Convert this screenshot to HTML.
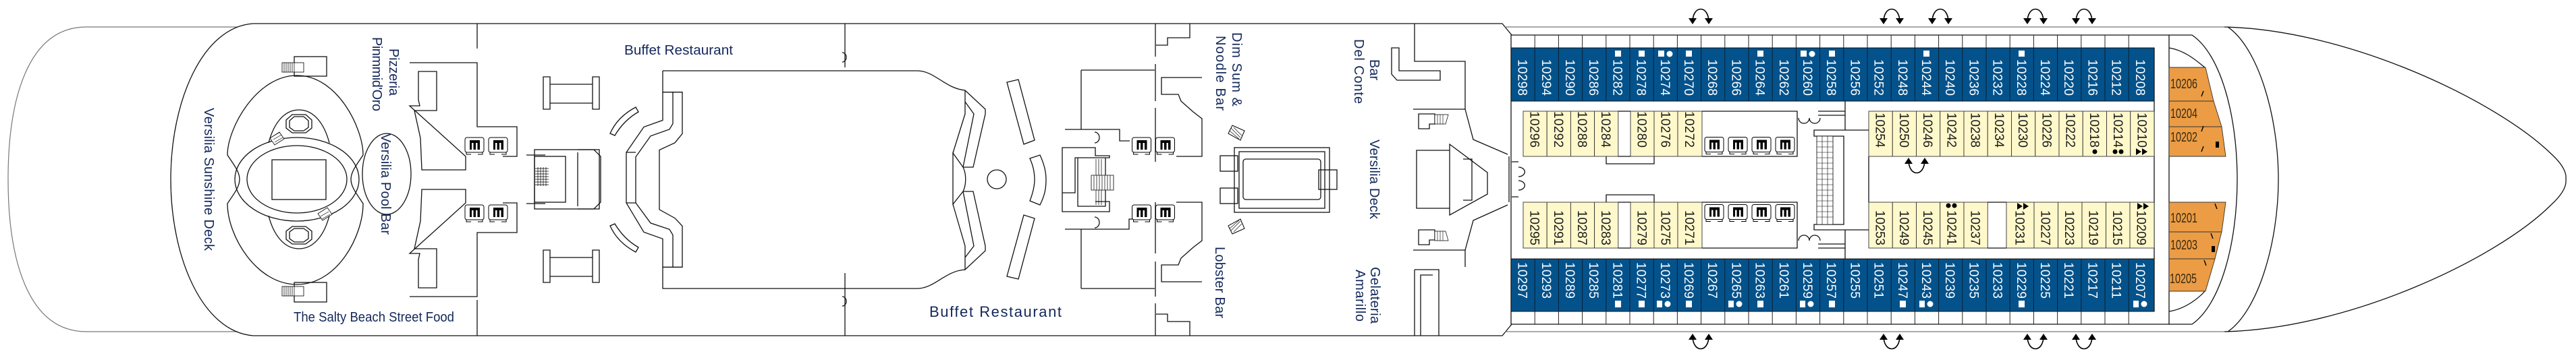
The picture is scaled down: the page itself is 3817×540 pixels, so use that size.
<!DOCTYPE html>
<html><head><meta charset="utf-8"><style>
html,body{margin:0;padding:0;background:#fff;width:3817px;height:540px;overflow:hidden}
svg{display:block;position:absolute;left:0;top:0}
.t{font-family:"Liberation Sans",sans-serif;fill:#13285a}
.c{font-family:"Liberation Sans",sans-serif;font-size:19px}
.w{fill:#fff}
.k{fill:#1a1a1a}
.ln{fill:none;stroke:#111;stroke-width:1.3}
.lg{fill:none;stroke:#777;stroke-width:1.2}
</style></head><body>
<svg width="3817" height="540" viewBox="0 0 3817 540" xmlns="http://www.w3.org/2000/svg">
<defs>
<symbol id="lf" viewBox="0 0 30 27"><rect x="1" y="1" width="28" height="22" rx="3" fill="#fff" stroke="#000" stroke-width="1"/><rect x="8" y="5" width="15" height="14" fill="#000"/><rect x="11" y="9" width="2.5" height="10" fill="#fff"/><rect x="17" y="9" width="2.5" height="10" fill="#fff"/><path d="M3,23 V26 H10 M20,26 H27 V23" fill="none" stroke="#000"/></symbol>
<symbol id="ar" viewBox="-25 0 50 30" overflow="visible"><path d="M-12,26 C-12,0 12,0 12,26" fill="none" stroke="#000" stroke-width="1.6"/><polygon points="-18,20 -6,20 -12,29" fill="#000"/><polygon points="6,20 18,20 12,29" fill="#000"/></symbol>
</defs>
<rect width="3817" height="540" fill="#fff"/>

<!-- stern -->
<path class="lg" d="M352,40 H128 C40,40 12,150 12,266 C12,382 40,492 128,492 H352"/>
<path class="ln" d="M375,35 C300,40 253,150 253,266 C253,382 300,492 375,498"/>
<path class="ln" d="M375,35 H2226 L2240,52"/>
<path class="ln" d="M375,498 H2226 L2240,481"/>

<!-- pool area -->
<path class="ln" d="M440,112 C500,112 538,190 538,230 C528,245 520,255 520,266 C520,277 528,287 538,302 C538,350 500,422 440,422 C380,422 337,350 337,302 C347,287 355,277 355,266 C355,255 347,245 337,230 C337,190 380,112 440,112 Z"/>
<ellipse class="ln" cx="440" cy="266" rx="92" ry="62"/>
<ellipse class="ln" cx="440" cy="266" rx="74" ry="50"/>
<rect class="ln" x="403" y="237" width="80" height="59"/>
<path class="ln" d="M398,212 C405,185 420,163 443,163 C466,163 481,185 488,212"/>
<path class="ln" d="M398,320 C405,347 420,369 443,369 C466,369 481,347 488,320"/>
<polygon class="ln" points="433,170 453,170 462,178 462,190 453,197 433,197 424,190 424,178"/>
<polygon class="ln" points="436,173 450,173 457,179 457,189 450,194 436,194 429,189 429,179"/>
<polygon class="ln" points="433,336 453,336 462,343 462,355 453,362 433,362 424,355 424,343"/>
<polygon class="ln" points="436,339 450,339 457,344 457,354 450,359 436,359 429,354 429,344"/>
<path d="M400,205 L414,196 L421,206 L407,215 Z M478,327 L492,318 L485,308 L471,317 Z" fill="#fff" stroke="#000" stroke-width="0.8"/>
<path d="M403,203 l12,-7 M405,207 l12,-7 M407,211 l12,-7 M475,321 l12,-7 M477,325 l12,-7" stroke="#000" stroke-width="0.7"/>
<rect class="ln" x="436" y="84" width="48" height="29"/>
<rect class="ln" x="436" y="419" width="48" height="29"/>
<rect x="418" y="93" width="32" height="14" fill="#fff" stroke="#000" stroke-width="0.8"/>
<rect x="418" y="425" width="32" height="14" fill="#fff" stroke="#000" stroke-width="0.8"/>
<path d="M421,93v14M424,93v14M427,93v14M430,93v14M433,93v14M436,93v14M421,425v14M424,425v14M427,425v14M430,425v14M433,425v14M436,425v14" stroke="#000" stroke-width="0.7"/>
<ellipse class="ln" cx="573" cy="258" rx="36" ry="60"/>

<!-- stern service block -->
<path class="ln" d="M707,35 V72 M707,445 V498"/>
<path class="ln" d="M607,93 H707 V188 H766 V232 H745 M690,232 V252 H625 L623,205 L614,164 H647 V106 H620 V148 L622,157 H607 Z"/>
<path class="ln" d="M607,440 H707 V345 H766 V301 H745 M690,301 V281 H625 L623,328 L614,369 H647 V427 H620 V385 L622,376 H607 Z"/>
<use href="#lf" x="688" y="203" width="30" height="27"/>
<use href="#lf" x="723" y="203" width="30" height="27"/>
<use href="#lf" x="688" y="303" width="30" height="27"/>
<use href="#lf" x="723" y="303" width="30" height="27"/>
<path class="ln" d="M780,230 H808 M780,302 H808"/>
<rect class="ln" x="792" y="222" width="96" height="88"/>
<rect class="ln" x="792" y="232" width="46" height="68"/>
<path class="ln" d="M856,222 H880 L890,232 V300 L880,310 H856 M856,226 V306"/>
<path d="M793,250h20M793,254h20M793,258h20M793,262h20M793,266h20M793,270h20M793,274h20M797,248v28M801,248v28M805,248v28M809,248v28" stroke="#000" stroke-width="0.7"/>
<!-- benches -->
<path class="ln" d="M805,114 h10 v48 h-10 Z M878,114 h10 v48 h-10 Z M815,125 H878 M815,153 H878"/>
<path class="ln" d="M805,371 h10 v48 h-10 Z M878,371 h10 v48 h-10 Z M815,382 H878 M815,410 H878"/>
<path class="ln" d="M904,198 C912,180 925,168 942,159 L946,166 C932,174 920,186 911,201 Z"/>
<path class="ln" d="M904,335 C912,353 925,365 942,374 L946,367 C932,359 920,347 911,332 Z"/>

<!-- buffet -->
<path class="ln" d="M982,105 V136.7 H1011 V198.4 L1000,211.8 L977,222.5 V310.9 L1000,323.6 L1011,335.3 V396.3 H982 V428 H1359 C1385,428 1400,402 1430,400"/>
<path class="ln" d="M982,105 H1359 C1385,105 1400,131 1430,134"/>
<path class="ln" d="M997,136.7 V183.4 L992,191.8 L964,201.8 L942,232.8 V300.9 L964,330.9 L992,340.3 L997,348.6 V396.3"/>
<path class="ln" d="M982,136.7 V178.4 L954,188.4 L928,226.1 V300.9 L954,344.3 L982,354.3 V396.3"/>
<path class="ln" d="M928,226 H942 M928,301 H942"/>
<path class="ln" d="M1252,35 V100 M1252,405 V498"/>
<path class="ln" d="M1248,78 a6,7 0 0 1 0,14 M1248,440 a6,7 0 0 1 0,14"/>
<path class="ln" d="M1430,134 L1460,162 L1460,169 L1442,248 H1427 L1412,227 V303 L1427,284 H1442 L1460,365 L1460,372 L1430,400 V365 L1412,303 M1430,134 V169 L1412,227"/>
<path class="ln" d="M1430,151 L1443,169 L1427,248 M1430,382 L1443,365 L1427,284 M1427,248 C1432,258 1432,274 1427,284"/>
<polygon class="ln" points="1492,122 1509,118 1533,208 1517,214"/>
<path class="ln" d="M1526,235 L1541,230 C1548,245 1550,256 1550,266 C1550,280 1548,290 1541,304 L1526,298 C1531,285 1533,275 1533,266 C1533,256 1531,246 1526,235 Z"/>
<polygon class="ln" points="1517,319 1533,324 1509,414 1492,410"/>
<circle class="ln" cx="1477" cy="266" r="14"/>

<!-- mid staircase -->
<path class="ln" d="M1602,104 H1711 M1602,104 V192 M1578,192 H1659 V209 H1674 M1602,428 H1711 M1602,428 V340 M1578,340 H1673 V325 H1690"/>
<path class="ln" d="M1574,219 H1623 V231 H1644 V234 H1593 V286 H1574 Z M1574,286 V314 H1644 V299 H1623 M1597,234 V306 H1638 V234"/>
<path d="M1617,260 h33 v22 h-33 Z" fill="#fff" stroke="#000" stroke-width="0.8"/>
<path d="M1621,260v22M1625,260v22M1629,260v22M1633,260v22M1637,260v22M1641,260v22M1645,260v22M1624,236v24M1628,236v24M1632,236v24M1624,282v22M1628,282v22M1632,282v22" stroke="#000" stroke-width="0.7"/>
<path class="ln" d="M1622,196 a7,8 0 0 1 0,16 M1622,322 a7,8 0 0 1 0,16"/>
<path class="ln" d="M1712,35 V84 M1712,95 V150 M1712,160 V240 M1712,300 V376 M1712,388 V440 M1712,450 V498"/>
<use href="#lf" x="1676" y="203" width="31" height="27"/>
<use href="#lf" x="1711" y="203" width="31" height="27"/>
<use href="#lf" x="1676" y="303" width="31" height="27"/>
<use href="#lf" x="1711" y="303" width="31" height="27"/>
<path class="ln" d="M1743,232 H1781 V176 L1768,166 L1750,150 L1746,140 H1721 V115 H1781 M1743,300 H1781 V357 L1768,367 L1750,383 L1746,393 H1721 V418 H1781"/>
<path class="ln" d="M1763,35 V56 H1730 V67 H1713 M1763,498 V477 H1730 V466 H1713"/>
<polygon points="1826,186 1844,194 1838,208 1820,198" fill="#fff" stroke="#000"/>
<polygon points="1826,347 1844,339 1838,325 1820,335" fill="#fff" stroke="#000"/>
<path d="M1824,190l14,14M1828,189l12,12M1822,194l14,12M1824,342l14,-14M1828,344l12,-12M1822,339l14,-12" stroke="#000" stroke-width="0.6"/>
<rect class="ln" x="1829" y="219" width="141" height="96"/>
<rect class="ln" x="1836" y="225" width="127" height="84"/>
<rect class="ln" x="1842" y="236" width="115" height="60" rx="4"/>
<rect class="ln" x="1954" y="252" width="27" height="29"/>
<rect class="ln" x="1808" y="231" width="26" height="23"/>
<rect class="ln" x="1808" y="279" width="26" height="23"/>

<!-- fore lobby -->
<path class="ln" d="M2096,35 V91 H2171 V162 H2094 M2096,498 V400 M2132,498 V400 H2096 M2171,396 V371 H2094"/>
<path class="ln" d="M2062,71 H2073 V105 H2134 V119 H2070 L2062,110 Z"/>
<path class="ln" d="M2105,498 V408 H2123"/>
<path class="ln" d="M2171,162 L2183,207 L2234,229 M2171,371 L2183,327 L2234,304"/>
<path class="ln" d="M2099,223 H2148 V214 L2204,256 V288 L2148,319 V309 H2099 Z M2148,223 V309 M2168,236 H2181 V297 H2168"/>
<path class="ln" d="M2102,169 H2126 V184 H2118 V191 H2102 Z M2102,341 H2126 V356 H2118 V363 H2102 Z"/>
<path d="M2126,170 h20 l-4,14 h-16 Z M2126,357 h20 l-4,-14 h-16 Z" fill="#fff" stroke="#000" stroke-width="0.7"/>
<path d="M2130,170v14M2134,170v14M2138,170v14M2130,343v14M2134,343v14M2138,343v14" stroke="#000" stroke-width="0.6"/>
<path class="ln" d="M2236,232 V300"/>
<path class="ln" d="M2240,240 h10 M2240,292 h10 M2250,248 a8,6 0 0 1 0,14 M2250,268 a8,6 0 0 1 0,14"/>

<!-- cabin area hull -->
<path class="lg" d="M2230,40 H3296 M2230,492 H3296"/>
<path class="ln" d="M3296,40 C3480,44 3700,150 3780,228 Q3804,250 3802,266 Q3804,282 3780,304 C3700,384 3480,488 3296,492"/>
<path class="ln" d="M3301,40 C3345,70 3376,170 3376,266 C3376,362 3345,462 3301,492" stroke-width="1"/>
<path class="ln" d="M3214,52 H3248 C3290,80 3315,170 3315,266 C3315,362 3290,452 3248,481 H3214" stroke-width="1"/>
<path class="ln" d="M2239,52 H3214 V481 H2239 Z"/>
<path class="ln" d="M3214,71 C3240,75 3260,95 3267,100 M3214,462 C3240,458 3260,440 3267,432"/>
<path class="ln" d="M3192,71 V462"/>
<!-- balcony dividers -->
<path d="M2274.2,52v19M2309.4,52v19M2344.6,52v19M2379.8,52v19M2415,52v19M2450.2,52v19M2485.4,52v19M2520.6,52v19M2555.8,52v19M2591,52v19M2626.2,52v19M2661.4,52v19M2696.6,52v19M2731.8,52v19M2767,52v19M2802.2,52v19M2837.4,52v19M2872.6,52v19M2907.8,52v19M2943,52v19M2978.2,52v19M3013.4,52v19M3048.6,52v19M3083.8,52v19M3119,52v19M3154.2,52v19M2274.2,462v19M2309.4,462v19M2344.6,462v19M2379.8,462v19M2415,462v19M2450.2,462v19M2485.4,462v19M2520.6,462v19M2555.8,462v19M2591,462v19M2626.2,462v19M2661.4,462v19M2696.6,462v19M2731.8,462v19M2767,462v19M2802.2,462v19M2837.4,462v19M2872.6,462v19M2907.8,462v19M2943,462v19M2978.2,462v19M3013.4,462v19M3048.6,462v19M3083.8,462v19M3119,462v19M3154.2,462v19" stroke="#222" stroke-width="1"/>

<!-- blue rows -->
<rect x="2239" y="71" width="953" height="79" fill="#04528b" stroke="#111"/>
<rect x="2239" y="384" width="953" height="78" fill="#04528b" stroke="#111"/>
<path d="M2274.2,71v79M2309.4,71v79M2344.6,71v79M2379.8,71v79M2415,71v79M2450.2,71v79M2485.4,71v79M2520.6,71v79M2555.8,71v79M2591,71v79M2626.2,71v79M2661.4,71v79M2696.6,71v79M2731.8,71v79M2767,71v79M2802.2,71v79M2837.4,71v79M2872.6,71v79M2907.8,71v79M2943,71v79M2978.2,71v79M3013.4,71v79M3048.6,71v79M3083.8,71v79M3119,71v79M3154.2,71v79M2274.2,384v78M2309.4,384v78M2344.6,384v78M2379.8,384v78M2415,384v78M2450.2,384v78M2485.4,384v78M2520.6,384v78M2555.8,384v78M2591,384v78M2626.2,384v78M2661.4,384v78M2696.6,384v78M2731.8,384v78M2767,384v78M2802.2,384v78M2837.4,384v78M2872.6,384v78M2907.8,384v78M2943,384v78M2978.2,384v78M3013.4,384v78M3048.6,384v78M3083.8,384v78M3119,384v78M3154.2,384v78" stroke="#0a1f33" stroke-width="1"/>
<g class="c w">
<text transform="translate(2249.6,88) rotate(90)" textLength="54">10298</text>
<text transform="translate(2284.8,88) rotate(90)" textLength="54">10294</text>
<text transform="translate(2320,88) rotate(90)" textLength="54">10290</text>
<text transform="translate(2355.2,88) rotate(90)" textLength="54">10286</text>
<text transform="translate(2390.4,88) rotate(90)" textLength="54">10282</text>
<text transform="translate(2425.6,88) rotate(90)" textLength="54">10278</text>
<text transform="translate(2460.8,88) rotate(90)" textLength="54">10274</text>
<text transform="translate(2496,88) rotate(90)" textLength="54">10270</text>
<text transform="translate(2531.2,88) rotate(90)" textLength="54">10268</text>
<text transform="translate(2566.4,88) rotate(90)" textLength="54">10266</text>
<text transform="translate(2601.6,88) rotate(90)" textLength="54">10264</text>
<text transform="translate(2636.8,88) rotate(90)" textLength="54">10262</text>
<text transform="translate(2672,88) rotate(90)" textLength="54">10260</text>
<text transform="translate(2707.2,88) rotate(90)" textLength="54">10258</text>
<text transform="translate(2742.4,88) rotate(90)" textLength="54">10256</text>
<text transform="translate(2777.6,88) rotate(90)" textLength="54">10252</text>
<text transform="translate(2812.8,88) rotate(90)" textLength="54">10248</text>
<text transform="translate(2848,88) rotate(90)" textLength="54">10244</text>
<text transform="translate(2883.2,88) rotate(90)" textLength="54">10240</text>
<text transform="translate(2918.4,88) rotate(90)" textLength="54">10236</text>
<text transform="translate(2953.6,88) rotate(90)" textLength="54">10232</text>
<text transform="translate(2988.8,88) rotate(90)" textLength="54">10228</text>
<text transform="translate(3024,88) rotate(90)" textLength="54">10224</text>
<text transform="translate(3059.2,88) rotate(90)" textLength="54">10220</text>
<text transform="translate(3094.4,88) rotate(90)" textLength="54">10216</text>
<text transform="translate(3129.6,88) rotate(90)" textLength="54">10212</text>
<text transform="translate(3164.8,88) rotate(90)" textLength="54">10208</text>

<text transform="translate(2249.6,389) rotate(90)" textLength="54">10297</text>
<text transform="translate(2284.8,389) rotate(90)" textLength="54">10293</text>
<text transform="translate(2320,389) rotate(90)" textLength="54">10289</text>
<text transform="translate(2355.2,389) rotate(90)" textLength="54">10285</text>
<text transform="translate(2390.4,389) rotate(90)" textLength="54">10281</text>
<text transform="translate(2425.6,389) rotate(90)" textLength="54">10277</text>
<text transform="translate(2460.8,389) rotate(90)" textLength="54">10273</text>
<text transform="translate(2496,389) rotate(90)" textLength="54">10269</text>
<text transform="translate(2531.2,389) rotate(90)" textLength="54">10267</text>
<text transform="translate(2566.4,389) rotate(90)" textLength="54">10265</text>
<text transform="translate(2601.6,389) rotate(90)" textLength="54">10263</text>
<text transform="translate(2636.8,389) rotate(90)" textLength="54">10261</text>
<text transform="translate(2672,389) rotate(90)" textLength="54">10259</text>
<text transform="translate(2707.2,389) rotate(90)" textLength="54">10257</text>
<text transform="translate(2742.4,389) rotate(90)" textLength="54">10255</text>
<text transform="translate(2777.6,389) rotate(90)" textLength="54">10251</text>
<text transform="translate(2812.8,389) rotate(90)" textLength="54">10247</text>
<text transform="translate(2848,389) rotate(90)" textLength="54">10243</text>
<text transform="translate(2883.2,389) rotate(90)" textLength="54">10239</text>
<text transform="translate(2918.4,389) rotate(90)" textLength="54">10235</text>
<text transform="translate(2953.6,389) rotate(90)" textLength="54">10233</text>
<text transform="translate(2988.8,389) rotate(90)" textLength="54">10229</text>
<text transform="translate(3024,389) rotate(90)" textLength="54">10225</text>
<text transform="translate(3059.2,389) rotate(90)" textLength="54">10221</text>
<text transform="translate(3094.4,389) rotate(90)" textLength="54">10217</text>
<text transform="translate(3129.6,389) rotate(90)" textLength="54">10211</text>
<text transform="translate(3164.8,389) rotate(90)" textLength="54">10207</text>
</g>
<!-- white icons -->
<g fill="#fff">
<rect x="2393" y="75" width="9" height="9"/><rect x="2428" y="75" width="9" height="9"/><rect x="2457" y="75" width="9" height="9"/><circle cx="2474" cy="80" r="4.5"/><rect x="2498" y="75" width="9" height="9"/><rect x="2604" y="75" width="9" height="9"/><rect x="2668" y="75" width="9" height="9"/><circle cx="2685" cy="80" r="4.5"/><rect x="2710" y="75" width="9" height="9"/><rect x="2850" y="75" width="9" height="9"/><rect x="2991" y="75" width="9" height="9"/>
<rect x="2393" y="446" width="9" height="10"/><rect x="2428" y="446" width="9" height="10"/><rect x="2455" y="446" width="8" height="10"/><circle cx="2471" cy="451" r="4.5"/><rect x="2498" y="446" width="9" height="10"/><rect x="2561" y="446" width="8" height="10"/><circle cx="2577" cy="451" r="4.5"/><rect x="2604" y="446" width="9" height="10"/><rect x="2667" y="446" width="8" height="10"/><circle cx="2683" cy="451" r="4.5"/><rect x="2710" y="446" width="9" height="10"/><rect x="2815" y="446" width="9" height="10"/><rect x="2844" y="446" width="8" height="10"/><circle cx="2860" cy="451" r="4.5"/><rect x="2991" y="446" width="9" height="10"/><rect x="3161" y="446" width="8" height="10"/><circle cx="3177" cy="451" r="4.5"/>
</g>

<!-- yellow rows -->
<g fill="#fff8cb" stroke="#333" stroke-width="0.9">
<rect x="2257" y="165" width="35.2" height="67"/><rect x="2292.2" y="165" width="35.2" height="67"/><rect x="2327.4" y="165" width="35.2" height="67"/><rect x="2362.6" y="165" width="35.2" height="67"/>
<rect x="2416" y="165" width="35" height="67"/><rect x="2451" y="165" width="35" height="67"/><rect x="2486" y="165" width="36" height="67"/>
<rect x="2257" y="300" width="35.2" height="68"/><rect x="2292.2" y="300" width="35.2" height="68"/><rect x="2327.4" y="300" width="35.2" height="68"/><rect x="2362.6" y="300" width="35.2" height="68"/>
<rect x="2416" y="300" width="35" height="68"/><rect x="2451" y="300" width="35" height="68"/><rect x="2486" y="300" width="36" height="68"/>
<rect x="2769" y="165" width="35.25" height="67"/><rect x="2804.25" y="165" width="35.25" height="67"/><rect x="2839.5" y="165" width="35.25" height="67"/><rect x="2874.75" y="165" width="35.25" height="67"/><rect x="2910" y="165" width="35.25" height="67"/><rect x="2945.25" y="165" width="35.25" height="67"/><rect x="2980.5" y="165" width="35.25" height="67"/><rect x="3015.75" y="165" width="35.25" height="67"/><rect x="3051" y="165" width="35.25" height="67"/><rect x="3086.25" y="165" width="35.25" height="67"/><rect x="3121.5" y="165" width="35.25" height="67"/><rect x="3156.75" y="165" width="35.25" height="67"/>
<rect x="2769" y="300" width="35.25" height="68"/><rect x="2804.25" y="300" width="35.25" height="68"/><rect x="2839.5" y="300" width="35.25" height="68"/><rect x="2874.75" y="300" width="35.25" height="68"/><rect x="2910" y="300" width="35.25" height="68"/>
<rect x="2973" y="300" width="41" height="68"/><rect x="3014" y="300" width="35.5" height="68"/><rect x="3049.5" y="300" width="35.5" height="68"/><rect x="3085" y="300" width="35.5" height="68"/><rect x="3120.5" y="300" width="35.5" height="68"/><rect x="3156" y="300" width="36" height="68"/>
</g>
<path class="ln" d="M2397.8,165 H2416 M2397.8,232 H2416 M2397.8,300 H2416 M2397.8,368 H2416 M2380,232 V243 H2451 V232 M2380,300 V289 H2451 V300 M2945,300 H2973 M2945,368 H2973 M2769,232 V300"/>
<g class="c k">
<text transform="translate(2267.6,165) rotate(90)" textLength="54">10296</text>
<text transform="translate(2302.8,165) rotate(90)" textLength="54">10292</text>
<text transform="translate(2338,165) rotate(90)" textLength="54">10288</text>
<text transform="translate(2373.2,165) rotate(90)" textLength="54">10284</text>
<text transform="translate(2426.5,165) rotate(90)" textLength="54">10280</text>
<text transform="translate(2461.5,165) rotate(90)" textLength="54">10276</text>
<text transform="translate(2497,165) rotate(90)" textLength="54">10272</text>
<text transform="translate(2267.6,312) rotate(90)" textLength="52">10295</text>
<text transform="translate(2302.8,312) rotate(90)" textLength="52">10291</text>
<text transform="translate(2338,312) rotate(90)" textLength="52">10287</text>
<text transform="translate(2373.2,312) rotate(90)" textLength="52">10283</text>
<text transform="translate(2426.5,312) rotate(90)" textLength="52">10279</text>
<text transform="translate(2461.5,312) rotate(90)" textLength="52">10275</text>
<text transform="translate(2497,312) rotate(90)" textLength="52">10271</text>
<text transform="translate(2779.6,167) rotate(90)" textLength="52">10254</text>
<text transform="translate(2814.9,167) rotate(90)" textLength="52">10250</text>
<text transform="translate(2850.1,167) rotate(90)" textLength="52">10246</text>
<text transform="translate(2885.4,167) rotate(90)" textLength="52">10242</text>
<text transform="translate(2920.6,167) rotate(90)" textLength="52">10238</text>
<text transform="translate(2955.9,167) rotate(90)" textLength="52">10234</text>
<text transform="translate(2991.1,167) rotate(90)" textLength="52">10230</text>
<text transform="translate(3026.4,167) rotate(90)" textLength="52">10226</text>
<text transform="translate(3061.6,167) rotate(90)" textLength="52">10222</text>
<text transform="translate(3096.9,167) rotate(90)" textLength="52">10218</text>
<text transform="translate(3132.1,167) rotate(90)" textLength="52">10214</text>
<text transform="translate(3167.4,167) rotate(90)" textLength="52">10210</text>
<text transform="translate(2779.6,312) rotate(90)" textLength="52">10253</text>
<text transform="translate(2814.9,312) rotate(90)" textLength="52">10249</text>
<text transform="translate(2850.1,312) rotate(90)" textLength="52">10245</text>
<text transform="translate(2885.4,312) rotate(90)" textLength="52">10241</text>
<text transform="translate(2920.6,312) rotate(90)" textLength="52">10237</text>
<text transform="translate(2986.5,312) rotate(90)" textLength="52">10231</text>
<text transform="translate(3024.6,312) rotate(90)" textLength="52">10227</text>
<text transform="translate(3060.1,312) rotate(90)" textLength="52">10223</text>
<text transform="translate(3095.6,312) rotate(90)" textLength="52">10219</text>
<text transform="translate(3131.1,312) rotate(90)" textLength="52">10215</text>
<text transform="translate(3166.6,312) rotate(90)" textLength="52">10209</text>
</g>
<g fill="#000">
<circle cx="3104" cy="225" r="3.5"/><circle cx="3134" cy="225" r="3.5"/><circle cx="3143" cy="225" r="3.5"/>
<polygon points="3165,220 3173,225 3165,230"/><polygon points="3174,220 3182,225 3174,230"/>
<circle cx="2887" cy="305" r="3.5"/><circle cx="2896" cy="305" r="3.5"/>
<polygon points="2989,301 2997,306 2989,311"/><polygon points="2998,301 3006,306 2998,311"/>
<polygon points="3167,301 3175,306 3167,311"/><polygon points="3176,301 3184,306 3176,311"/>
</g>
<!-- lifts & stairs in cabin area -->
<path class="ln" d="M2522,165 H2663 V232 H2522 M2522,300 H2663 V368 H2522"/>
<use href="#lf" x="2525" y="202" width="30" height="28"/><use href="#lf" x="2560" y="202" width="30" height="28"/><use href="#lf" x="2595" y="202" width="30" height="28"/><use href="#lf" x="2630" y="202" width="30" height="28"/>
<use href="#lf" x="2525" y="302" width="30" height="28"/><use href="#lf" x="2560" y="302" width="30" height="28"/><use href="#lf" x="2595" y="302" width="30" height="28"/><use href="#lf" x="2630" y="302" width="30" height="28"/>
<path class="ln" d="M2769,193 H2688 V202 H2732 V333 H2688 V341 H2769 M2734,150 V193 M2734,341 V384 M2694,165 H2734 M2694,171 H2734 M2694,362 H2734 M2694,368 H2734"/>
<path d="M2692,202 h24 v131 h-24 Z" fill="#fff" stroke="#000" stroke-width="0.8"/>
<path d="M2692,210h24M2692,218h24M2692,226h24M2692,234h24M2692,242h24M2692,250h24M2692,258h24M2692,266h24M2692,274h24M2692,282h24M2692,290h24M2692,298h24M2692,306h24M2692,314h24M2692,322h24M2700,202v131M2708,202v131" stroke="#000" stroke-width="0.6"/>
<path class="ln" d="M2665,175 a8,8 0 0 0 16,0 a8,8 0 0 0 16,0 M2665,357 a8,8 0 0 1 16,0 a8,8 0 0 1 16,0"/>

<!-- orange suites -->
<g fill="#eb9c45" stroke="#333" stroke-width="0.9">
<polygon points="3214,100 3268,100 3280,150 3214,150"/>
<polygon points="3214,150 3280,150 3292,188 3214,188"/>
<polygon points="3214,188 3292,188 3298,232 3214,232"/>
<polygon points="3214,300 3298,300 3292,344 3214,344"/>
<polygon points="3214,344 3292,344 3282,384 3214,384"/>
<polygon points="3214,384 3282,384 3268,432 3214,432"/>
</g>
<g font-family="'Liberation Sans Narrow','Liberation Sans',sans-serif" font-size="20" fill="#3a2a10">
<text x="3216" y="131" textLength="40" lengthAdjust="spacingAndGlyphs">10206</text>
<text x="3216" y="175" textLength="40" lengthAdjust="spacingAndGlyphs">10204</text>
<text x="3216" y="210" textLength="40" lengthAdjust="spacingAndGlyphs">10202</text>
<text x="3216" y="330" textLength="40" lengthAdjust="spacingAndGlyphs">10201</text>
<text x="3216" y="370" textLength="40" lengthAdjust="spacingAndGlyphs">10203</text>
<text x="3215" y="420" textLength="40" lengthAdjust="spacingAndGlyphs">10205</text>
</g>
<rect x="3283" y="210" width="5" height="9" fill="#000"/><rect x="3277" y="365" width="5" height="9" fill="#000"/>
<path d="M3262,143 l3,-8 M3262,195 l3,-8 M3262,225 l3,-8 M3282,302 l3,8 M3276,346 l3,8 M3266,386 l3,8" stroke="#000" stroke-width="1.4"/>

<!-- arrows -->
<use href="#ar" x="2495" y="7" width="50" height="30"/>
<use href="#ar" x="2778" y="7" width="50" height="30"/>
<use href="#ar" x="2850" y="7" width="50" height="30"/>
<use href="#ar" x="2991" y="7" width="50" height="30"/>
<use href="#ar" x="3063" y="7" width="50" height="30"/>
<g transform="translate(0,531) scale(1,-1)">
<use href="#ar" x="2495" y="7" width="50" height="30"/>
<use href="#ar" x="2778" y="7" width="50" height="30"/>
<use href="#ar" x="2991" y="7" width="50" height="30"/>
<use href="#ar" x="3063" y="7" width="50" height="30"/>
</g>
<g transform="translate(0,499) scale(1,-1)"><use href="#ar" x="2815" y="236" width="50" height="30"/></g>

<!-- labels -->
<g class="t" font-size="20">
<text transform="translate(303,160) rotate(90)" textLength="212">Versilia Sunshine Deck</text>
<text transform="translate(577,72) rotate(90)" textLength="70">Pizzeria</text>
<text transform="translate(552,55) rotate(90)" textLength="110">Pinmmid'Oro</text>
<text transform="translate(565,198) rotate(90)" textLength="150">Versilia Pool Bar</text>
<text transform="translate(1826,48) rotate(90)" textLength="110">Dim Sum &amp;</text>
<text transform="translate(1802,53) rotate(90)" textLength="111">Noodle Bar</text>
<text transform="translate(1801,366) rotate(90)" textLength="106">Lobster Bar</text>
<text transform="translate(2030,88) rotate(90)" textLength="31">Bar</text>
<text transform="translate(2007,58) rotate(90)" textLength="96">Del Conte</text>
<text transform="translate(2030,207) rotate(90)" textLength="118">Versilia Deck</text>
<text transform="translate(2031,396) rotate(90)" textLength="84">Gelateria</text>
<text transform="translate(2009,400) rotate(90)" textLength="77">Amarillo</text>
<text x="1377" y="470" textLength="196" font-size="22">Buffet Restaurant</text>
</g>
<g class="t" font-family="'Liberation Sans Narrow','Liberation Sans',sans-serif" font-size="20">
<text x="925" y="81" textLength="161" lengthAdjust="spacingAndGlyphs">Buffet Restaurant</text>
<text x="435" y="477" textLength="238" lengthAdjust="spacingAndGlyphs">The Salty Beach Street Food</text>
</g>
</svg>
</body></html>
